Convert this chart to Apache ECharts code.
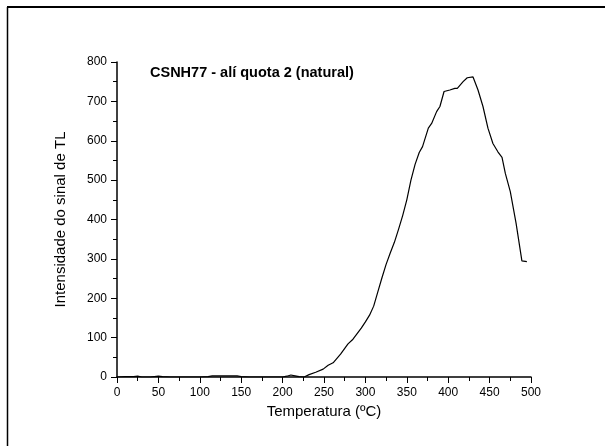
<!DOCTYPE html>
<html>
<head>
<meta charset="utf-8">
<script src="https://cdn.jsdelivr.net/npm/echarts@6/dist/echarts.min.js"></script>
<style>html,body{margin:0;padding:0;background:#fff;}#c{width:605px;height:446px;}</style>
</head>
<body>
<div id="c"></div>
<script>
// Temperature (ºC)
var temperature = [0,10,20,25,30,40,50,55,65,80,100,110,115,130,145,150,160,180,200,205,210,215,220,226,
  232,240,249,255,261,270,279,285,295,300,305,310,315,320,325,330,335,340,345,350,355,360,365,369,376,380,386,390,395,
  402,408,411,418,423,430,436,442,448,454,460,465,469,475,482,489,495];
// TL signal intensity
var intensity = [0,1,1,2,0,0,2,1,0,0,0,1,3,3,3,1,0,0,0,2,5,3,1,0,
  6,12,20,30,36,58,84,96,124,140,157,180,216,252,286,315,342,375,410,450,500,540,570,585,632,644,674,687,725,
  729,733,733,750,760,762,729,687,632,593,572,558,517,471,390,295,293];
var xTicks = [0,50,100,150,200,250,300,350,400,450,500];
var yTicks = [0,100,200,300,400,500,600,700,800];
var titleText = 'CSNH77 - alí quota 2 (natural)';
var xName = 'Temperatura (ºC)';
var yName = 'Intensidade do sinal de TL';

var data = temperature.map(function(t,i){return [t,intensity[i]];});
var font = 'Liberation Sans, Arial, sans-serif';
var chart = echarts.init(document.getElementById('c'), null, {renderer:'canvas'});
var axisCommon = {
  axisLine:{show:true,onZero:false,lineStyle:{color:'#000',width:1.5}},
  axisTick:{show:true,inside:false,length:6,lineStyle:{color:'#000',width:1}},
  minorTick:{show:true,splitNumber:2,length:4,lineStyle:{color:'#000',width:1}},
  splitLine:{show:false},
  axisLabel:{color:'#000',fontFamily:font,fontSize:12,margin:10},
  nameLocation:'middle',
  nameTextStyle:{color:'#000',fontFamily:font,fontSize:15}
};
chart.setOption({
  backgroundColor:'#fff',
  animation:false,
  title:{text:titleText,left:150,top:65,padding:0,textStyle:{fontFamily:font,fontSize:14.5,fontWeight:'bold',color:'#000'}},
  grid:{left:117,right:74,top:62,bottom:69,containLabel:false},
  xAxis:Object.assign({}, axisCommon, {type:'value',min:xTicks[0],max:xTicks[xTicks.length-1],interval:50,name:xName,nameGap:27}),
  yAxis:Object.assign({}, axisCommon, {type:'value',min:yTicks[0],max:yTicks[yTicks.length-1],interval:100,name:yName,nameGap:49}),
  graphic:[
    {type:'line',shape:{x1:7,y1:7,x2:605,y2:7},style:{stroke:'#000',lineWidth:2}},
    {type:'line',shape:{x1:7.5,y1:7,x2:7.5,y2:446},style:{stroke:'#000',lineWidth:1.5}}
  ],
  series:[{type:'line',data:data,showSymbol:false,symbol:'none',smooth:false,
    lineStyle:{color:'#000',width:1.2}}]
});
</script>
</body>
</html>
